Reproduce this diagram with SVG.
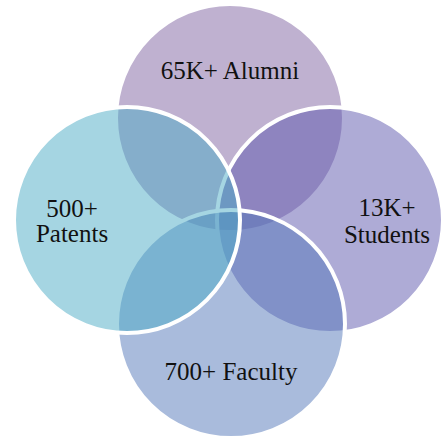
<svg xmlns="http://www.w3.org/2000/svg" width="442" height="440" viewBox="0 0 442 440">
<style>
.c{stroke:#fff;stroke-width:4}
.t{font-family:"Liberation Serif","DejaVu Serif",serif;font-size:25px;fill:#111;text-anchor:middle}
</style>
<rect width="442" height="440" fill="#fff"/>
<g id="alumni"><circle class="c" cx="230" cy="118" r="114" fill="#8064A2" fill-opacity="0.5"/></g>
<g id="students"><circle class="c" cx="330" cy="220" r="113" fill="#5D57AD" fill-opacity="0.5"/></g>
<g id="faculty"><circle class="c" cx="231" cy="324" r="114" fill="#5377B9" fill-opacity="0.5"/></g>
<g id="patents"><circle class="c" cx="127" cy="220" r="113" fill="#4BACC6" fill-opacity="0.5"/></g>
<g id="labels">
<text class="t" x="230" y="79">65K+ Alumni</text>
<text class="t" x="72" y="217">500+</text>
<text class="t" x="72" y="242">Patents</text>
<text class="t" x="387" y="216">13K+</text>
<text class="t" x="387" y="243">Students</text>
<text class="t" x="231" y="380">700+ Faculty</text>
</g>
</svg>
